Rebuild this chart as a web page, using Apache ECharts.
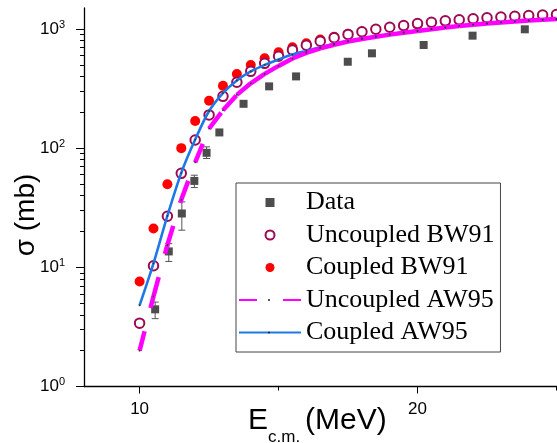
<!DOCTYPE html>
<html><head><meta charset="utf-8">
<script src="https://cdn.jsdelivr.net/npm/echarts@6/dist/echarts.min.js"></script>
<style>html,body{margin:0;padding:0;background:#fff}#c{width:557px;height:443px}</style>
</head><body><div id="c"></div>
<script>
// ---- data ----
const dataE = [10.56, 11.05, 11.52, 11.97, 12.41, 12.87, 13.74, 14.66, 15.63, 17.49, 18.36, 20.22, 21.98, 23.86];
const dataSigma = [4.44, 13.6, 28.3, 53.1, 91.4, 135.5, 235.6, 330, 400, 531, 625, 734, 879, 994];
const dataErrLow = [3.71, 11.2, 20.5, 46.7, 81.9, null, null, null, null, null, null, null, null, null];
const dataErrHigh = [5.11, 15.8, 35.4, 59.3, 102.6, null, null, null, null, null, null, null, null, null];

const theoryE = [10, 10.5, 11, 11.5, 12, 12.5, 13, 13.5, 14, 14.5, 15, 15.5, 16, 16.5, 17, 17.5, 18, 18.5, 19, 19.5, 20, 20.5, 21, 21.5, 22, 22.5, 23, 23.5, 24, 24.5, 25];
const uncoupledBW91 = [3.4, 10.3, 26.8, 61.5, 117, 190, 272, 357, 441, 515, 590, 665, 730, 790, 845, 900, 948, 995, 1035, 1068, 1110, 1140, 1170, 1196, 1220, 1242, 1262, 1280, 1296, 1310, 1322];
const coupledBW91 = [7.6, 21.2, 49.8, 100, 169, 250, 334, 419, 498, 567, 637, 702, 759, 815, 862, 910, 952, 992, 1028, 1060, 1090, 1118, 1144, 1168, 1190, 1210, 1228, 1245, 1260, 1274, 1287];
const uncoupledAW95 = [2.0, 5.7, 15.4, 37, 76, 146, 208, 280, 350, 420, 490, 565, 630, 688, 738, 785, 825, 862, 897, 930, 960, 995, 1028, 1058, 1086, 1112, 1136, 1158, 1178, 1196, 1212];
const coupledAW95 = [4.8, 10.8, 27, 62, 118, 205, 290, 370, 440, 500, 555, 610, 655, 702, 748, 792, 832, 868, 902, 934, 964, 998, 1030, 1060, 1088, 1114, 1138, 1160, 1180, 1198, 1214];

const xMajorTicks = [10, 20];
const xMinorTicks = [15, 25];
const yMajorTicks = [1, 10, 100, 1000];
const yMinorTicks = [2,3,4,5,6,7,8,9,20,30,40,50,60,70,80,90,200,300,400,500,600,700,800,900];
const legendNames = ['Data', 'Uncoupled BW91', 'Coupled BW91', 'Uncoupled AW95', 'Coupled AW95'];

// ---- chart ----
const pairs = (xs, ys) => xs.map((x, i) => [x, ys[i]]);
const SANS = '"Liberation Sans", Arial, sans-serif';
const SERIF = '"Liberation Serif", "Times New Roman", serif';
const MAG = '#ff00ff', BLUE = '#1e78e6', GRAY = '#4d4d4d';

// legend geometry (box layout only)
const LEG_LEFT = 236, LEG_TOP = 183, LEG_PAD = [6.5, 6, 6.5, 2], LEG_ITEM_W = 62, LEG_ROW = 26, LEG_GAP = 6.5;

const chart = echarts.init(document.getElementById('c'), null, {renderer: 'canvas'});
const axisBase = {splitLine: {show: false}};
const legendData = legendNames.map(n => {
  const d = {name: n};
  if (n === 'Data') d.icon = 'path://M0,0H10V10H0Z';
  if (n.indexOf('AW95') >= 0) d.itemStyle = {opacity: 0};
  return d;
});
// tiny centre markers of the line legend icons
const legendDots = legendNames.map((n, i) => n.indexOf('AW95') < 0 ? null : {
  type: 'circle', silent: true, z: 200,
  shape: {cx: LEG_LEFT + LEG_PAD[3] + LEG_ITEM_W / 2,
          cy: LEG_TOP + LEG_PAD[0] + LEG_ROW / 2 + i * (LEG_ROW + LEG_GAP), r: 1},
  style: {fill: '#222'}
}).filter(Boolean);

const option = {
  animation: false,
  backgroundColor: '#fff',
  grid: {left: 84, right: 0.5, top: 8, bottom: 56.5},
  xAxis: [
    Object.assign({type: 'value', min: 8, max: 25,
      axisLine: {onZero: false, lineStyle: {color: '#000', width: 1.3}},
      axisTick: {customValues: xMajorTicks, length: 7, lineStyle: {color: '#000', width: 1}},
      axisLabel: {customValues: xMajorTicks, margin: 14, fontSize: 17, fontFamily: SANS, color: '#000'}}, axisBase),
    Object.assign({type: 'value', min: 8, max: 25, position: 'bottom',
      axisLine: {show: false, onZero: false},
      axisTick: {customValues: xMinorTicks, length: 4, lineStyle: {color: '#000', width: 1}},
      axisLabel: {show: false}}, axisBase)
  ],
  yAxis: [
    Object.assign({type: 'log', logBase: 10, min: 1, max: 1500,
      axisLine: {show: true, lineStyle: {color: '#000', width: 1.3}},
      axisTick: {show: true, customValues: yMajorTicks, length: 8, lineStyle: {color: '#000', width: 1}},
      axisLabel: {customValues: yMajorTicks, margin: 19, color: '#000',
        formatter: v => '{b|10}{s|' + Math.round(Math.log10(v)) + '}',
        rich: {b: {fontSize: 17, fontFamily: SANS, color: '#000', lineHeight: 20},
               s: {fontSize: 11, fontFamily: SANS, color: '#000', lineHeight: 6, verticalAlign: 'top'}}}}, axisBase),
    Object.assign({type: 'log', logBase: 10, min: 1, max: 1500, position: 'left',
      axisLine: {show: false},
      axisTick: {show: true, customValues: yMinorTicks, length: 4, lineStyle: {color: '#000', width: 1}},
      axisLabel: {show: false}}, axisBase)
  ],
  legend: {
    orient: 'vertical', left: LEG_LEFT, top: LEG_TOP,
    itemWidth: LEG_ITEM_W, itemHeight: 9, itemGap: LEG_GAP,
    symbolKeepAspect: true,
    padding: LEG_PAD,
    borderColor: '#444', borderWidth: 1, backgroundColor: '#fff',
    textStyle: {fontSize: 26, fontFamily: SERIF, color: '#000', lineHeight: LEG_ROW},
    data: legendData
  },
  series: [
    {name: 'Data', type: 'scatter', data: pairs(dataE, dataSigma), symbol: 'rect', symbolSize: 8,
     itemStyle: {color: GRAY, opacity: 1}, z: 2},
    {type: 'custom', data: dataE.map((x, i) => [x, dataErrLow[i], dataErrHigh[i]]).filter(d => d[1] != null),
     encode: {x: 0, y: [1, 2]}, z: 1, silent: true,
     renderItem: (params, api) => {
       const lo = api.coord([api.value(0), api.value(1)]);
       const hi = api.coord([api.value(0), api.value(2)]);
       const st = {stroke: '#555', lineWidth: 1};
       return {type: 'group', children: [
         {type: 'line', shape: {x1: lo[0], y1: lo[1], x2: hi[0], y2: hi[1]}, style: st},
         {type: 'line', shape: {x1: lo[0] - 3.5, y1: lo[1], x2: lo[0] + 3.5, y2: lo[1]}, style: st},
         {type: 'line', shape: {x1: hi[0] - 3.5, y1: hi[1], x2: hi[0] + 3.5, y2: hi[1]}, style: st}
       ]};
     }},
    {name: 'Coupled BW91', type: 'scatter', data: pairs(theoryE, coupledBW91), symbol: 'circle', symbolSize: 10,
     itemStyle: {color: '#ff0000', opacity: 1}, z: 3},
    {name: 'Uncoupled BW91', type: 'scatter', data: pairs(theoryE, uncoupledBW91), symbol: 'circle', symbolSize: 9.5,
     itemStyle: {color: '#ffffff', borderColor: '#9c0a52', borderWidth: 2, opacity: 1}, z: 4},
    {name: 'Coupled AW95', type: 'line', data: pairs(theoryE, coupledAW95), smooth: 0.3, symbol: 'none',
     lineStyle: {color: BLUE, width: 2.6}, itemStyle: {color: BLUE}, z: 5},
    // legend proxy for the dashed magenta curve
    {name: 'Uncoupled AW95', type: 'line', data: [], symbol: 'none',
     lineStyle: {color: MAG, width: 4.5, type: [18, 26]}, itemStyle: {color: MAG}, z: 6},
    {name: 'Uncoupled AW95', type: 'custom', data: pairs(theoryE, uncoupledAW95), encode: {x: 0, y: 1}, z: 6, silent: true,
     renderItem: (params, api) => {
       const i = params.dataIndex;
       if (i >= theoryE.length - 1) return null;
       const p1 = api.coord([theoryE[i], uncoupledAW95[i]]);
       const p2 = api.coord([theoryE[i + 1], uncoupledAW95[i + 1]]);
       return {type: 'line', shape: {x1: p1[0], y1: p1[1], x2: p2[0], y2: p2[1]},
               style: {stroke: MAG, lineWidth: 4.5, lineDash: [20, 24], lineCap: 'butt'}};
     }},
    {type: 'scatter', data: pairs(theoryE, uncoupledAW95).concat(pairs(theoryE, coupledAW95)),
     symbol: 'circle', symbolSize: 1.8, itemStyle: {color: '#333', opacity: 1}, z: 7, silent: true}
  ],
  graphic: [
    {type: 'text', x: 26, y: 215, rotation: Math.PI / 2, silent: true,
     style: {text: 'σ (mb)', font: '28px ' + SANS, fill: '#000', align: 'center', verticalAlign: 'middle'}},
    {type: 'text', x: 248, y: 421, silent: true,
     style: {text: 'E', font: '30px ' + SANS, fill: '#000', align: 'left', verticalAlign: 'middle'}},
    {type: 'text', x: 268, y: 437, silent: true,
     style: {text: 'c.m.', font: '17px ' + SANS, fill: '#000', align: 'left', verticalAlign: 'middle'}},
    {type: 'text', x: 305, y: 421, silent: true,
     style: {text: '(MeV)', font: '30px ' + SANS, fill: '#000', align: 'left', verticalAlign: 'middle'}}
  ].concat(legendDots)
};
chart.setOption(option);
</script>
</body></html>
